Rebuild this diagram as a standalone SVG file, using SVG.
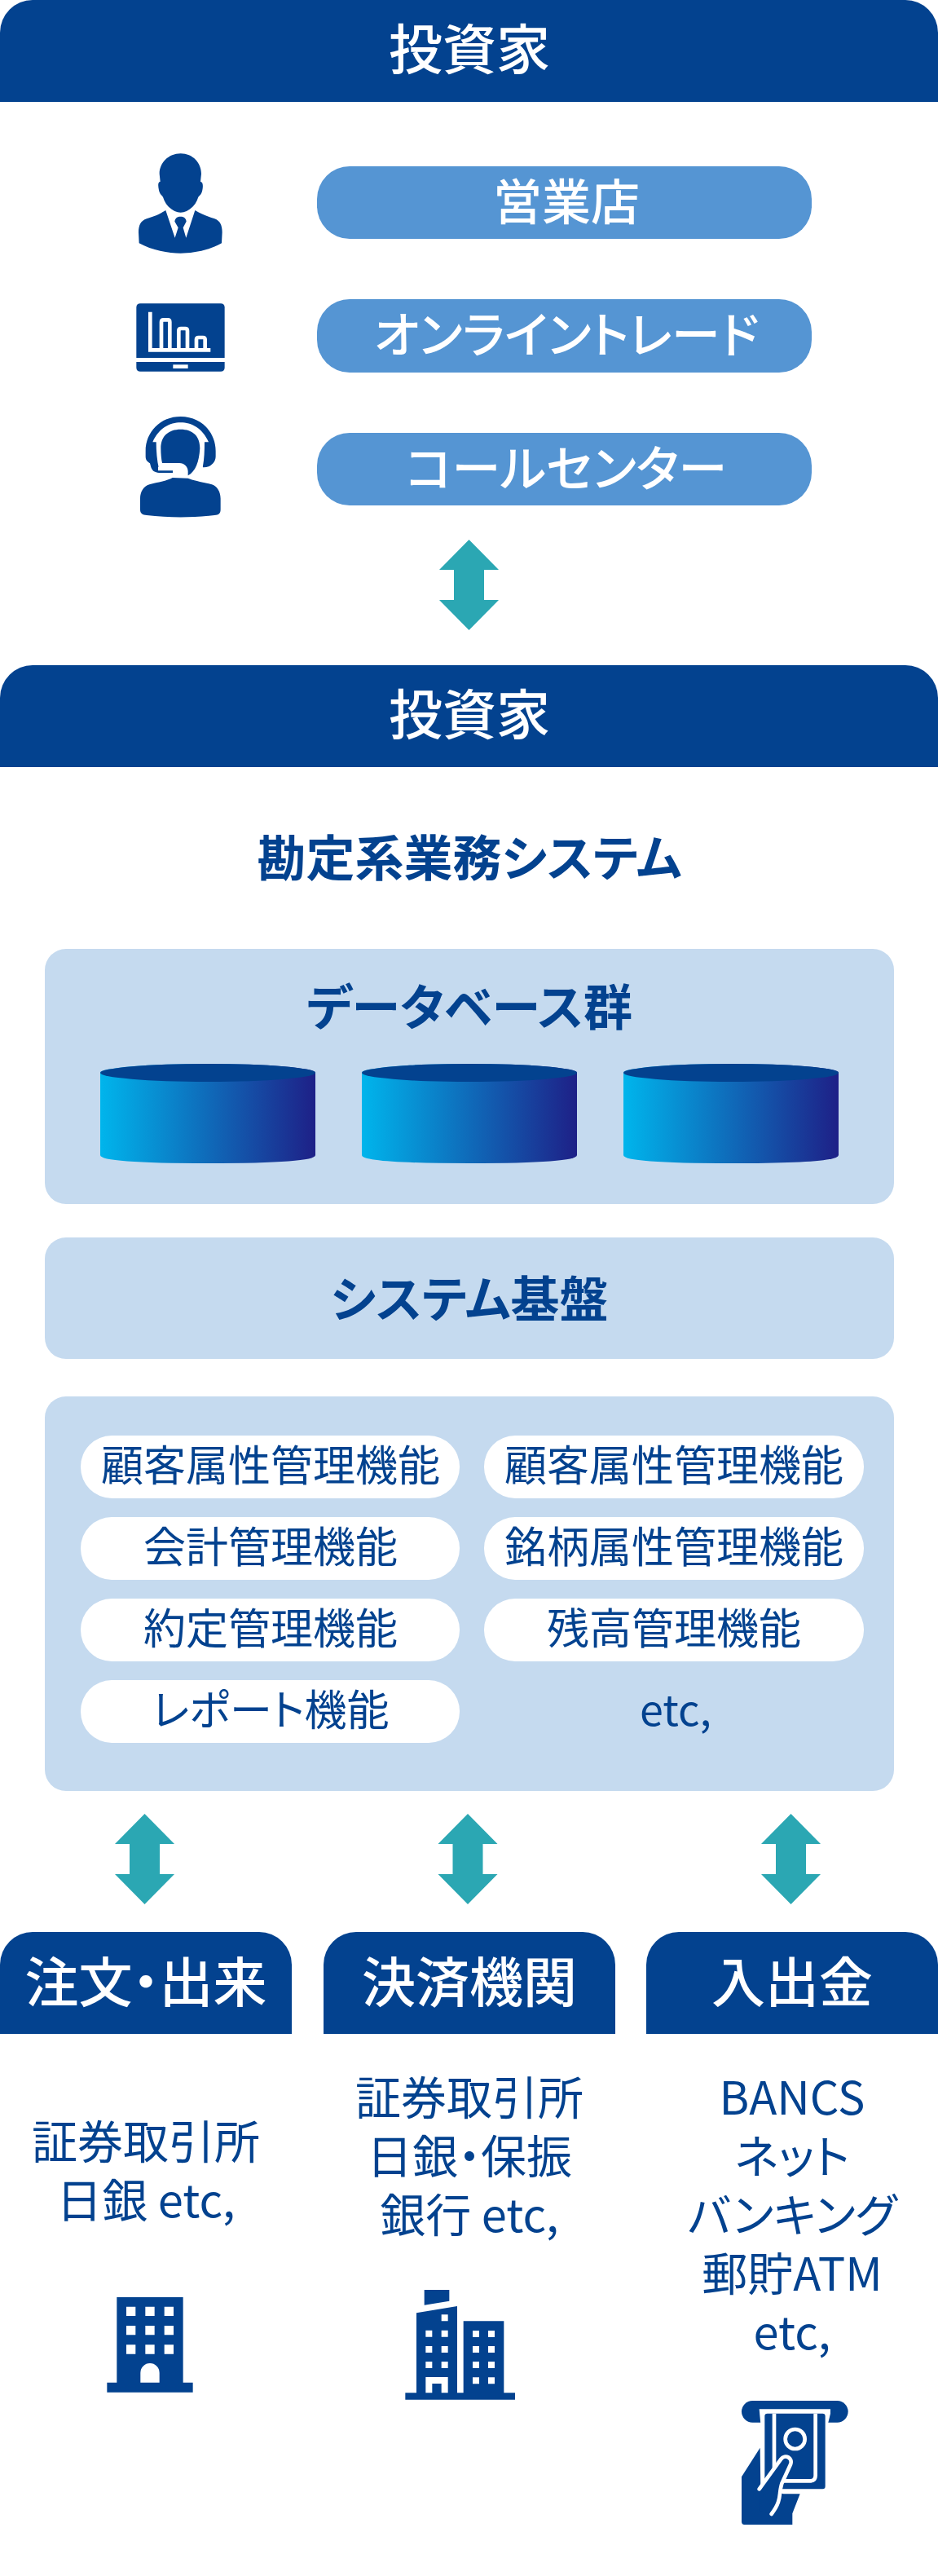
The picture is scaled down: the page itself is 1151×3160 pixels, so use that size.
<svg xmlns="http://www.w3.org/2000/svg" width="1151" height="3160" viewBox="0 0 1151 3160">
<style>
text{font-family:"Noto Sans CJK JP","Noto Sans",sans-serif;text-anchor:middle}
.hd{fill:#03428f}.ht{fill:#fff;font-size:66px;font-weight:500;font-feature-settings:"palt"}
.pill{fill:#5595d3}.pt{fill:#fff;font-size:60px;font-weight:500;font-feature-settings:"palt"}
.panel{fill:#c5daef}.bt{fill:#03428f;font-size:60px;font-weight:700;font-feature-settings:"palt"}
.fn{fill:#fff}.ft{fill:#03428f;font-size:52px;font-weight:400;font-feature-settings:"palt"}
.lt{fill:#03428f;font-size:56px;font-weight:400;font-feature-settings:"palt"}
.ar{fill:#2ba7b3}.ic{fill:#03428f}.w{fill:#fff}.ws{fill:none;stroke:#fff;stroke-width:14}
.top{fill:#03428f}
</style>
<defs>
<linearGradient id="cyl" x1="0" x2="1" y1="0" y2="0"><stop offset="0" stop-color="#00b5ec"/><stop offset="1" stop-color="#1e2087"/></linearGradient>
<path id="hdr" d="M0 125V40A40 40 0 0 1 40 0H318A40 40 0 0 1 358 40V125Z"/>
<path id="arr" d="M0 0L36.500 37H18.500V74H36.500L0 111L-36.500 74H-18.500V37H-36.500Z"/>
<g id="db"><path d="M0 11A132 11 0 0 1 264 11V112Q264 122 132 122T0 112Z" fill="url(#cyl)"/><ellipse cx="132" cy="11" rx="132" ry="11" class="top"/></g>
</defs>
<g id="n-investor">
<path class="hd" d="M0 125V40A40 40 0 0 1 40 0H1111A40 40 0 0 1 1151 40V125Z"/>
<text class="ht" x="576" y="85">投資家</text>
</g>
<g id="n-branch"><rect class="pill" x="389" y="204" width="607" height="89" rx="40"/><text class="pt" x="695" y="270">営業店</text></g>
<g id="n-online"><rect class="pill" x="389" y="367" width="607" height="90" rx="40"/><text class="pt" x="695" y="433">オンライントレード</text></g>
<g id="n-call"><rect class="pill" x="389" y="531" width="607" height="89" rx="40"/><text class="pt" x="695" y="597">コールセンター</text></g>
<g id="n-icon-person" transform="translate(100 170) scale(.3333)">
<path class="ic" d="M365 55C320 55 287 90 287 130L290 158C280 160 282 175 285 190C288 205 297 210 300 215C310 250 340 272 365 272C390 272 420 250 430 215C435 210 442 205 445 190C448 175 448 160 438 158L441 130C441 90 410 55 365 55Z"/>
<path class="ic" d="M310 264C285 280 265 287 240 295C218 302 210 320 210 345L212 385C260 412 320 422 365 422C410 422 470 412 516 385L518 345C518 320 510 302 490 295C465 287 445 280 418 264L385 365L374 328L386 305C385 292 375 287 365 287C353 287 345 292 343 305L356 328L344 365Z"/>
</g>
<g id="n-icon-laptop" transform="translate(100 170) scale(.3333)">
<path class="ic" d="M202 807V622Q202 607 217 607H512Q527 607 527 622V807Z"/>
<path class="ic" d="M202 822H527V842Q527 857 512 857H217Q202 857 202 842Z"/>
<rect class="w" x="337" y="832" width="55" height="14"/>
<path class="ws" d="M253 638V778H475M294 778V675Q294 667 302 667H318Q325 667 325 675V778M358 778V707Q358 699 366 699H382Q390 699 390 707V778M423 778V739Q423 732 431 732H447Q455 732 455 739V778"/>
</g>
<g id="n-icon-call" transform="translate(100 170) scale(.3333)">
<path class="ic" d="M365 1023C290 1023 236 1080 236 1150V1170C236 1185 245 1190 252 1195L256 1210C262 1225 270 1228 285 1230H380V1180H445L447 1210C470 1212 494 1195 494 1170V1150C494 1080 440 1023 365 1023Z"/>
<path class="w" d="M262 1117C285 1065 325 1045 365 1045C405 1045 445 1065 468 1117H453C453 1150 452 1180 447 1205H420L360 1240H336V1215H285C278 1185 275 1150 275 1117Z"/>
<path class="ic" d="M365 1070C320 1070 292 1095 292 1140C292 1160 294 1180 297 1194H360C378 1194 392 1208 392 1225V1240C420 1225 433 1190 436 1140C436 1095 410 1070 365 1070Z"/>
<path class="ws" d="M282 1215H360C381 1215 381 1240 360 1240H335"/>
<path class="ic" d="M335 1248C320 1258 280 1265 250 1273C228 1280 216 1300 216 1325V1365C216 1380 225 1385 240 1386C320 1396 410 1396 490 1386C505 1385 512 1380 512 1365V1325C512 1300 500 1280 480 1273C450 1265 410 1258 392 1250Z"/>
</g>
<g id="connectors">
<use href="#arr" class="ar" x="575.500" y="662"/>
<use href="#arr" class="ar" x="177.500" y="2225"/>
<use href="#arr" class="ar" x="574" y="2225"/>
<use href="#arr" class="ar" x="970.500" y="2225"/>
</g>
<g id="n-system">
<path class="hd" d="M0 941V856A40 40 0 0 1 40 816H1111A40 40 0 0 1 1151 856V941Z"/>
<text class="ht" x="576" y="901">投資家</text>
<text class="bt" x="576" y="1075">勘定系業務システム</text>
</g>
<g id="n-db">
<rect class="panel" x="55" y="1164" width="1042" height="313" rx="26"/>
<text class="bt" x="576" y="1258">データベース群</text>
<use href="#db" x="123" y="1305"/><use href="#db" x="444" y="1305"/><use href="#db" x="765" y="1305"/>
</g>
<g id="n-base">
<rect class="panel" x="55" y="1518" width="1042" height="149" rx="26"/>
<text class="bt" x="576" y="1616">システム基盤</text>
</g>
<g id="n-func">
<rect class="panel" x="55" y="1713" width="1042" height="484" rx="26"/>
<rect class="fn" x="99" y="1761" width="465" height="77" rx="38"/><text class="ft" x="332" y="1817">顧客属性管理機能</text>
<rect class="fn" x="594" y="1761" width="466" height="77" rx="38"/><text class="ft" x="827" y="1817">顧客属性管理機能</text>
<rect class="fn" x="99" y="1861" width="465" height="77" rx="38"/><text class="ft" x="332" y="1917">会計管理機能</text>
<rect class="fn" x="594" y="1861" width="466" height="77" rx="38"/><text class="ft" x="827" y="1917">銘柄属性管理機能</text>
<rect class="fn" x="99" y="1961" width="465" height="77" rx="38"/><text class="ft" x="332" y="2017">約定管理機能</text>
<rect class="fn" x="594" y="1961" width="466" height="77" rx="38"/><text class="ft" x="827" y="2017">残高管理機能</text>
<rect class="fn" x="99" y="2061" width="465" height="77" rx="38"/><text class="ft" x="332" y="2117">レポート機能</text>
<text class="ft" x="829" y="2117">etc,</text>
</g>
<g id="n-order">
<use href="#hdr" class="hd" x="0" y="2370"/>
<text class="ht" x="179" y="2456">注文・出来</text>
<text class="lt" x="179" y="2648">証券取引所</text>
<text class="lt" x="179" y="2720">日銀 etc,</text>
<g transform="translate(100 2780) scale(.3333)">
<path class="ic" d="M130 114H374V428H410V464H94V428H130Z"/>
<path class="w" d="M165 149h34v34h-34zM235 149h34v34h-34zM305 149h34v34h-34zM165 219h34v34h-34zM235 219h34v34h-34zM305 219h34v34h-34zM165 289h34v34h-34zM235 289h34v34h-34zM305 289h34v34h-34zM217 428V392A35 35 0 0 1 287 392V428Z"/>
</g>
</g>
<g id="n-settle">
<use href="#hdr" class="hd" x="397" y="2370"/>
<text class="ht" x="576" y="2456">決済機関</text>
<text class="lt" x="576" y="2594">証券取引所</text>
<text class="lt" x="576" y="2666">日銀・保振</text>
<text class="lt" x="576" y="2738">銀行 etc,</text>
<g transform="translate(470 2780) scale(.3333)">
<path class="ic" d="M82 466H123V172L273 147V466H296V202H445V466H486V491H82ZM152 87H244V128L152 143Z"/>
<path class="w" d="M215 178h24v24h-24zM157 236h24v24h-24zM215 236h24v24h-24zM157 294h24v24h-24zM215 294h24v24h-24zM157 351h24v24h-24zM215 351h24v24h-24zM157 408H239V466H215V432H181V466H157ZM330 237h24v24h-24zM387 237h24v24h-24zM330 294h24v24h-24zM387 294h24v24h-24zM330 351h24v24h-24zM387 351h24v24h-24zM330 409h24v24h-24zM387 409h24v24h-24z"/>
</g>
</g>
<g id="n-deposit">
<use href="#hdr" class="hd" x="793" y="2370"/>
<text class="ht" x="972" y="2456">入出金</text>
<text class="lt" x="972" y="2594">BANCS</text>
<text class="lt" x="972" y="2666">ネット</text>
<text class="lt" x="972" y="2738">バンキング</text>
<text class="lt" x="972" y="2810">郵貯ATM</text>
<text class="lt" x="972" y="2882">etc,</text>
<g transform="translate(880 2920) scale(.3333)">
<rect class="ic" x="90" y="75" width="392" height="80" rx="40"/>
<path class="w" d="M155 106H417V122L408 160H160Z"/>
<rect class="ic" x="175" y="122" width="223" height="278" rx="10"/>
<path class="ws" d="M210 122V335M362 122V350Q362 368 345 370H245"/>
<circle class="ws" cx="287" cy="216" r="36"/>
<path class="ic" d="M158 248L90 355V520Q90 531 100 531H277V490L305 418H245L160 400Z"/>
<path class="ic" d="M155 400L235 290C250 270 280 285 270 310L235 380L200 492L155 480Z"/>
<path class="ws" stroke-linecap="round" d="M155 400L235 290C250 270 280 285 270 310L238 380C225 420 240 440 200 492"/>
</g>
</g>
</svg>
